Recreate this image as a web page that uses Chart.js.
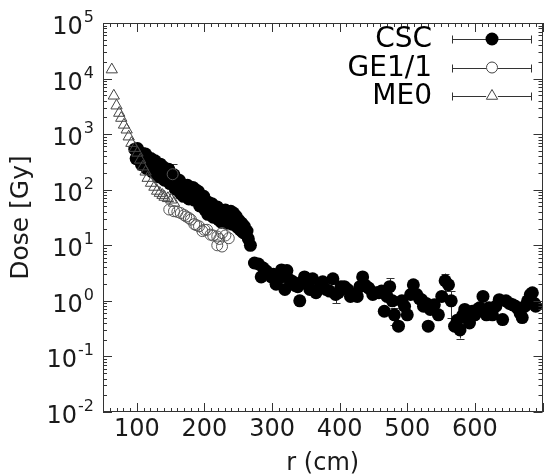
<!DOCTYPE html>
<html><head><meta charset="utf-8">
<script src="https://cdn.jsdelivr.net/npm/chart.js@4/dist/chart.umd.min.js"></script>
<style>html,body{margin:0;padding:0;background:#fff;}canvas{display:block;}</style>
</head><body>
<canvas id="c" width="550" height="476" style="width:550px;height:476px"></canvas>
<script>
// ---- data ----
const cscR = [97,99,101,103,105,107,109,111,113,115,117,119,121,123,125,127,129,131,133,135,137,139,141,143,145,147,149,151,153,155,157,159,161,163,165,167,169,171,173,175,177,179,181,183,185,187,189,191,193,195,197,199,201,203,205,207,209,211,213,215,217,219,221,223,225,227,229,231,233,235,237,239,241,243,245,247,249,251,253,255,257,259,261,263,265,268,
  274,280,284,287,292,299,302,306,311,314,319,322,326,331,334,338,341,345,348,352,356,360,365,370,375,380,385,390,394,398,402,407,412,416,421,426,430,434,438,443,449,454,458,462,466,470,474,478,481,487,492,496,500,505,509,514,518,521,524,528,531,534,540,546,551,556,561,565,570,574,578,582,585,589,592,596,600,604,607,612,617,621,626,631,636,641,646,651,656,660,663,667,670,674,678,682,685,688,690];
const cscDose = [537,363,550,347,457,282,447,302,437,240,339,245,363,209,282,331,195,282,170,288,191,257,148,219,151,234,129,191,135,186,102,145,100,148,85,120,76,120,85,120,68,100,71,110,65,100,68,93,51,72,50,76,43,62,36,58,40,56,32,46,32,49,29,43,26,42,30,43,25,36,26,41,24,38,26,33,21,28,19,25,17,22,16,18,13,10,
  4.8,4.6,2.7,3.9,3.4,2.7,3.0,2.0,2.6,3.6,1.6,3.5,2.4,2.2,1.9,1.8,1.0,2.2,2.7,2.0,1.6,2.5,1.4,1.7,2.2,1.6,1.5,2.5,1.3,1.4,1.8,1.8,1.6,1.2,1.3,1.2,1.8,2.7,1.9,1.7,1.3,1.4,1.4,1.5,0.65,1.2,1.8,1.0,0.56,0.35,1.0,0.8,0.56,1.3,1.95,1.3,1.1,1.05,0.8,0.9,0.35,0.7,0.85,0.56,1.2,2.3,1.95,1.0,0.35,0.45,0.30,0.55,0.7,0.5,0.4,0.65,0.56,0.7,0.75,1.2,0.56,0.75,0.56,0.8,1.05,0.46,1.0,0.9,0.85,0.8,0.74,0.6,0.5,0.8,1.0,1.3,1.4,0.9,0.8];
const cscErrR = [394,474,481,556,565,578];
const cscErrSize = [0.4,0.75,0.19,0.8,0.5,0.09];

const ge11R = [148,153,155,160,165,170,173,177,180,185,188,192,197,200,204,209,213,219,222,226,231,236,219,226];
const ge11Dose = [44,190,41,40,38,35,33,31,29,24,23,22,18,19,19,15.5,15,14.4,13,16.6,15,13.4,10,9.5];
const ge11ErrR = [153];
const ge11ErrSize = [95];

const me0R = [63,66,70,74,77,81,85,88,92,97,101,105,109,113,116,121,126,130,134,138,141,146,151,155];
const me0Dose = [14500,4900,3250,2400,1950,1470,1200,900,690,560,460,345,260,210,162,132,112,95,87,80,74,70,66,58];

const xTickLabels = [100,200,300,400,500,600];
const yTickExponents = [-2,-1,0,1,2,3,4,5];
const seriesNames = ['CSC','GE1/1','ME0'];
const xTitle = 'r (cm)';
const yTitle = 'Dose [Gy]';

// ---- drawing ----
const FONT = '"DejaVu Sans", sans-serif';
Chart.defaults.font.family = FONT;
Chart.defaults.color = '#1a1a1a';

function pts(r, d){ return r.map((v,i)=>({x:v, y:d[i]})); }

function drawMarker(ctx, kind, x, y){
  ctx.save();
  ctx.lineWidth = 1;
  if (kind === 0){
    ctx.fillStyle = '#000'; ctx.beginPath(); ctx.arc(x,y,6.5,0,Math.PI*2); ctx.fill();
  } else if (kind === 1){
    ctx.strokeStyle = '#444'; ctx.beginPath(); ctx.arc(x,y,5.5,0,Math.PI*2); ctx.stroke();
  } else {
    const r = 6.5;
    ctx.strokeStyle = '#444'; ctx.beginPath();
    for (let k=0;k<3;k++){
      const a = k*2*Math.PI/3;
      const px = x + Math.sin(a)*r, py = y - Math.cos(a)*r;
      if (k===0) ctx.moveTo(px,py); else ctx.lineTo(px,py);
    }
    ctx.closePath(); ctx.stroke();
  }
  ctx.restore();
}

const errPlugin = {
  id: 'errbars',
  beforeDatasetsDraw(chart){
    const {ctx, scales:{x, y}} = chart;
    ctx.save();
    ctx.strokeStyle = '#333'; ctx.lineWidth = 1;
    const sets = [[cscR, cscDose, cscErrR, cscErrSize],[ge11R, ge11Dose, ge11ErrR, ge11ErrSize]];
    ctx.beginPath();
    for (const [rs, ds, er, es] of sets){
      er.forEach((r, j) => {
        const i = rs.indexOf(r); if (i < 0) return;
        const v = ds[i], e = es[j];
        const px = Math.round(x.getPixelForValue(r)) + 0.5;
        const lo = y.getPixelForValue(Math.max(v - e, 1e-3));
        const hi = y.getPixelForValue(v + e);
        ctx.moveTo(px, lo); ctx.lineTo(px, hi);
        ctx.moveTo(px-4, Math.round(lo)+0.5); ctx.lineTo(px+4, Math.round(lo)+0.5);
        ctx.moveTo(px-4, Math.round(hi)+0.5); ctx.lineTo(px+4, Math.round(hi)+0.5);
      });
    }
    ctx.stroke();
    ctx.restore();
  }
};

const framePlugin = {
  id: 'frame',
  afterDraw(chart){
    const {ctx, chartArea:a, scales:{x, y}} = chart;
    ctx.save();
    ctx.strokeStyle = '#333'; ctx.lineWidth = 1;
    ctx.strokeRect(Math.round(a.left)+0.5, Math.round(a.top)+0.5, Math.round(a.right-a.left)-1, Math.round(a.bottom-a.top)-1);
    ctx.beginPath();
    for (let v = Math.ceil(x.min/10)*10; v <= x.max; v += 10){
      const px = Math.round(x.getPixelForValue(v)) + 0.5;
      const len = v % 100 === 0 ? 9 : 4;
      ctx.moveTo(px, a.bottom); ctx.lineTo(px, a.bottom - len);
      ctx.moveTo(px, a.top); ctx.lineTo(px, a.top + len);
    }
    for (const e of yTickExponents){
      for (let m = 1; m <= 9; m++){
        const v = m * Math.pow(10, e);
        if (v > y.max * 1.0001) break;
        const py = Math.round(y.getPixelForValue(v)) + 0.5;
        const len = m === 1 ? 9 : 4;
        ctx.moveTo(a.left, py); ctx.lineTo(a.left + len, py);
        ctx.moveTo(a.right, py); ctx.lineTo(a.right - len, py);
      }
    }
    ctx.stroke();

    // y tick labels 10^e
    ctx.fillStyle = '#1a1a1a';
    ctx.textAlign = 'right'; ctx.textBaseline = 'alphabetic';
    for (const e of yTickExponents){
      const py = y.getPixelForValue(Math.pow(10, e));
      const rightX = a.left - 9;
      const es = String(e);
      ctx.font = '16px ' + FONT;
      const ew = ctx.measureText(es).width;
      ctx.fillText(es, rightX, py - 1);
      ctx.font = '24px ' + FONT;
      ctx.fillText('10', rightX - ew - 1, py + 11);
    }

    // legend
    const textRight = 432, lineL = 452, lineR = 532, mx = 492;
    seriesNames.forEach((name, i) => {
      const cy = a.top + 16 + i * 28.5;
      ctx.font = '28px ' + FONT;
      ctx.textAlign = 'right'; ctx.textBaseline = 'middle';
      ctx.fillStyle = '#000';
      ctx.fillText(name, textRight, cy + 1);
      ctx.strokeStyle = '#333'; ctx.lineWidth = 1;
      const ly = Math.round(cy) + 0.5;
      ctx.beginPath();
      ctx.moveTo(lineL, ly); ctx.lineTo(lineR, ly);
      ctx.moveTo(lineL + 0.5, ly - 4); ctx.lineTo(lineL + 0.5, ly + 4);
      ctx.moveTo(lineR - 0.5, ly - 4); ctx.lineTo(lineR - 0.5, ly + 4);
      ctx.stroke();
      if (i > 0){ ctx.fillStyle = '#fff'; ctx.beginPath(); ctx.arc(mx, cy, 6, 0, Math.PI*2); ctx.fill(); }
      drawMarker(ctx, i, mx, cy);
    });
    ctx.restore();
  }
};

new Chart(document.getElementById('c'), {
  type: 'scatter',
  data: {
    datasets: [
      { label: seriesNames[0], data: pts(cscR, cscDose), order: 3,
        pointRadius: 6.5, pointBackgroundColor: '#000', pointBorderColor: '#000', pointBorderWidth: 0, showLine: false },
      { label: seriesNames[1], data: pts(ge11R, ge11Dose), order: 1,
        pointRadius: 5.5, pointBackgroundColor: 'rgba(0,0,0,0)', pointBorderColor: '#555', pointBorderWidth: 1, showLine: false },
      { label: seriesNames[2], data: pts(me0R, me0Dose), order: 2, pointStyle: 'triangle',
        pointRadius: 6.5, pointBackgroundColor: 'rgba(0,0,0,0)', pointBorderColor: '#444', pointBorderWidth: 1, showLine: false }
    ]
  },
  options: {
    responsive: false, animation: false, devicePixelRatio: 1,
    layout: { padding: { left: 0, right: 3, top: 23, bottom: 0 } },
    plugins: { legend: { display: false }, tooltip: { enabled: false } },
    scales: {
      x: {
        type: 'linear', min: 50, max: 700, position: 'bottom',
        afterBuildTicks: s => { s.ticks = xTickLabels.map(v => ({ value: v })); },
        afterFit: s => { s.height = 64; },
        grid: { display: false, drawTicks: false }, border: { display: false },
        ticks: { font: { size: 24, lineHeight: 1 }, padding: 6, color: '#1a1a1a', maxRotation: 0, autoSkip: false,
          callback: v => String(v) },
        title: { display: true, text: xTitle, font: { size: 24, lineHeight: 1 }, padding: { top: 0, bottom: 0 }, color: '#1a1a1a' }
      },
      y: {
        type: 'logarithmic', min: 1e-2, max: 1e5, position: 'left',
        afterFit: s => { s.width = 103; },
        grid: { display: false, drawTicks: false }, border: { display: false },
        ticks: { display: false },
        title: { display: true, text: yTitle, font: { size: 25, lineHeight: 1 }, padding: { top: 9, bottom: 0 }, color: '#1a1a1a' }
      }
    }
  },
  plugins: [errPlugin, framePlugin]
});
</script>
</body></html>
